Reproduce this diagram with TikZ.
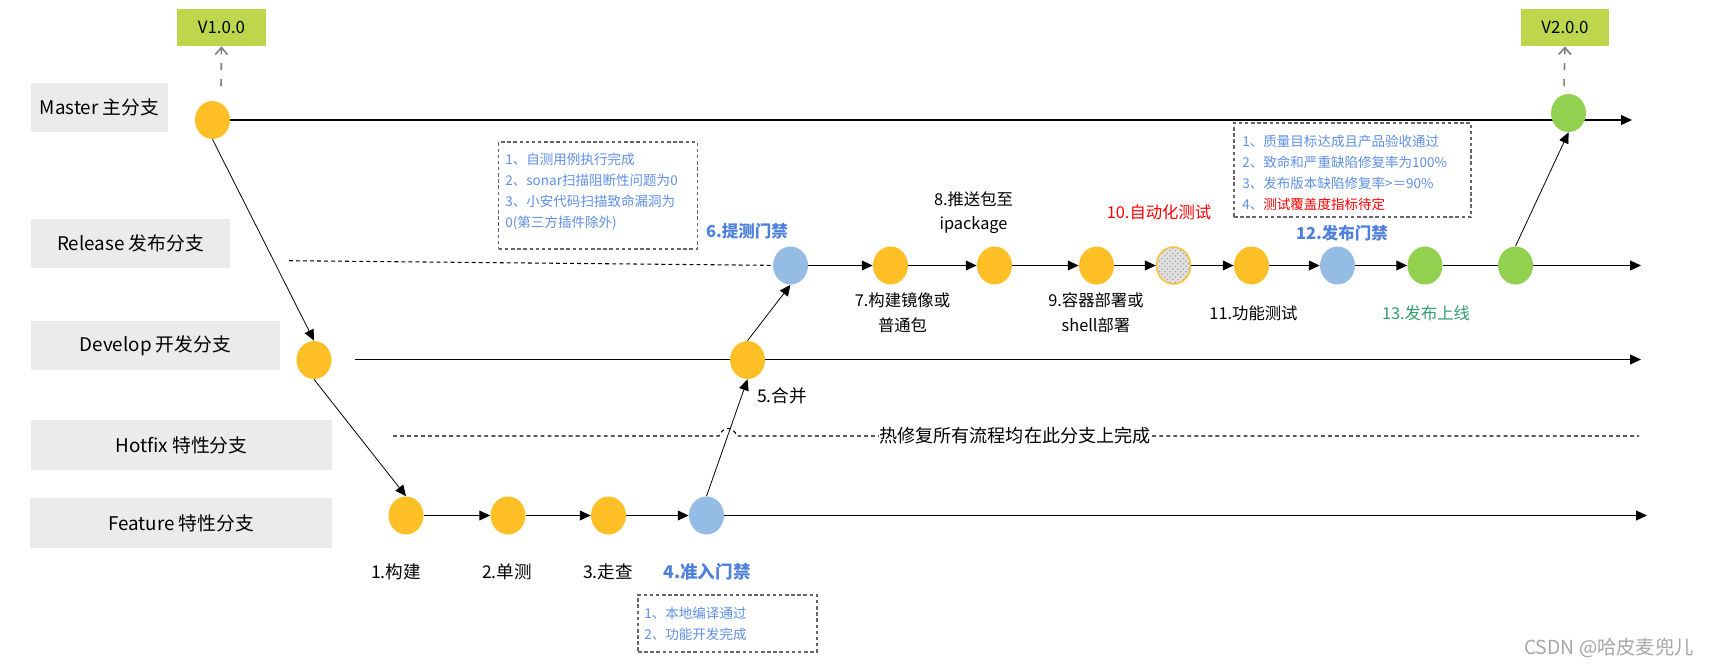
\documentclass[tikz,border=0pt]{standalone}
\usepackage{fontspec}
\setmainfont{Noto Sans CJK SC}
\usepackage{tikz}
\usetikzlibrary{arrows.meta,shapes.geometric,patterns}

\definecolor{nodeorange}{HTML}{FFBF27}
\definecolor{nodeblue}{HTML}{95BCE4}
\definecolor{nodegreen}{HTML}{92D050}
\definecolor{taglime}{HTML}{BDD64B}
\definecolor{branchgray}{HTML}{EBEBEB}
\definecolor{gateblue}{HTML}{4F81DC}
\definecolor{ruleblue}{HTML}{5E8FE6}
\definecolor{onlinegreen}{HTML}{2E9E6B}
\definecolor{markgray}{HTML}{A6A6A6}

\tikzset{
  commit/.style={ellipse,minimum width=.7cm,minimum height=.76cm,inner sep=0pt},
  orangecommit/.style={commit,fill=nodeorange},
  bluecommit/.style={commit,fill=nodeblue},
  greencommit/.style={commit,fill=nodegreen},
  branchbox/.style={fill=branchgray},
  branchname/.style={font=\fontsize{10.7}{14}\selectfont,inner sep=0pt},
  versiontag/.style={fill=taglime,font=\fontsize{9.6}{12}\selectfont,minimum width=1.77cm,minimum height=.74cm,inner sep=0pt},
  flow/.style={line width=.7pt,-{Triangle[length=6.2pt,width=5.6pt]}},
  plainflow/.style={line width=.7pt},
  hop/.style={line width=.45pt,-{Triangle[length=6.2pt,width=5.6pt]}},
  tagline/.style={color=gray,line width=.9pt,dash pattern=on 4pt off 5pt,-{Straight Barb[length=4pt,width=7pt]}},
  gatebox/.style={draw=black!60,line width=.7pt,dash pattern=on 2pt off 1.5pt},
  caption/.style={font=\fontsize{10}{14}\selectfont,align=center,inner sep=0pt},
  smallcaption/.style={caption,font=\fontsize{9.3}{14}\selectfont},
  gatetitle/.style={caption,font=\fontsize{10}{14}\selectfont\bfseries,color=gateblue},
  smallgatetitle/.style={gatetitle,font=\fontsize{9.4}{14}\selectfont\bfseries},
  rules/.style={font=\fontsize{7.7}{11.9}\selectfont,align=left,anchor=west,inner sep=0pt,color=ruleblue},
}

\begin{document}
\begin{tikzpicture}[x=.02cm,y=-.02cm]
  \useasboundingbox (0,0) rectangle (1710,667);

  % branch names
  \node[branchbox,minimum width=2.74cm,minimum height=.98cm] (masterbox) at (99.5,107.5) {};
  \node[branchname] (mastername) at (masterbox) {Master 主分支};
  \node[branchbox,minimum width=3.98cm,minimum height=.98cm] (releasebox) at (130.5,243.5) {};
  \node[branchname] (releasename) at (releasebox) {Release 发布分支};
  \node[branchbox,minimum width=4.98cm,minimum height=.98cm] (developbox) at (155.5,345.5) {};
  \node[branchname] (developname) at (developbox) {Develop 开发分支};
  \node[branchbox,minimum width=6.02cm,minimum height=1cm] (hotfixbox) at (181.5,445) {};
  \node[branchname] (hotfixname) at (hotfixbox) {Hotfix 特性分支};
  \node[branchbox,minimum width=6.04cm,minimum height=1cm] (featurebox) at (181,523) {};
  \node[branchname] (featurename) at (featurebox) {Feature 特性分支};

  % master
  \node[orangecommit] (masterstart) at (212.5,120) {};
  \coordinate (masterend) at (1632,120);
  \draw[flow] (masterstart) -- (masterend);
  \node[greencommit] (masterlast) at (1568.5,113) {};
  \node[versiontag] (vone) at (221.5,27.5) {V1.0.0};
  \node[versiontag,minimum width=1.76cm] (vtwo) at (1565,27.5) {V2.0.0};
  \coordinate (vonefoot) at (221,86);
  \coordinate (vtwofoot) at (1564,86);
  \draw[tagline] (vonefoot) -- (vone.south);
  \draw[tagline] (vtwofoot) -- (vtwo.south);

  % develop
  \node[orangecommit] (developstart) at (314,360) {};
  \coordinate (developleft) at (354.5,359.5);
  \coordinate (developend) at (1641,359.5);
  \draw[flow] (developleft) -- (developend);
  \node[orangecommit] (merge) at (747.5,360) {};

  % feature
  \node[orangecommit] (build) at (406,515.5) {};
  \node[orangecommit] (unittest) at (508,515.5) {};
  \node[orangecommit] (review) at (608.5,515.5) {};
  \node[bluecommit] (entrygate) at (706.5,515.5) {};
  \coordinate (featureend) at (1647,515.5);
  \draw[flow] (build) -- (unittest);
  \draw[flow] (unittest) -- (review);
  \draw[flow] (review) -- (entrygate);
  \draw[flow] (entrygate) -- (featureend);

  % release
  \node[bluecommit] (testgate) at (790.5,265.5) {};
  \node[orangecommit] (image) at (890.5,265.5) {};
  \node[orangecommit] (push) at (994.5,265.5) {};
  \node[orangecommit] (deploy) at (1096.5,265.5) {};
  \node[commit,draw=nodeorange,line width=.8pt,minimum width=.68cm,minimum height=.74cm,
    preaction={fill=black!12},pattern=crosshatch dots,pattern color=black!35] (autotest) at (1173.5,265.5) {};
  \node[orangecommit] (functest) at (1251.5,265.5) {};
  \node[bluecommit] (releasegate) at (1337.5,265.5) {};
  \node[greencommit] (online) at (1425,265.5) {};
  \node[greencommit] (releaselast) at (1515.5,265.5) {};
  \coordinate (releaseend) at (1641,265.5);
  \coordinate (releaseleft) at (289,260.7);
  \draw[line width=.6pt,dash pattern=on 2.2pt off 1.8pt] (releaseleft) -- (testgate);
  \draw[flow] (testgate) -- (image);
  \draw[flow] (image) -- (push);
  \draw[flow] (push) -- (deploy);
  \draw[flow] (deploy) -- (autotest);
  \draw[flow] (autotest) -- (functest);
  \draw[flow] (functest) -- (releasegate);
  \draw[flow] (releasegate) -- (online);
  \draw[plainflow] (online) -- (releaselast);
  \draw[flow] (releaselast) -- (releaseend);

  % hotfix
  \coordinate (hotfixleft) at (393,436);
  \coordinate (hotfixend) at (1639,436);
  \coordinate (hopleft) at (719,436);
  \coordinate (hopright) at (737,436);
  \draw[line width=.6pt,dash pattern=on 2.2pt off 1.8pt] (hotfixleft) -- (hopleft)
    .. controls (723,426) and (733,426) .. (hopright) -- (hotfixend);
  \node[caption,fill=white,font=\fontsize{10.3}{14}\selectfont] (hotfixnote) at (1015,436) {热修复所有流程均在此分支上完成};

  % between branches
  \draw[hop] (masterstart.south) -- (developstart.north);
  \draw[hop] (developstart.south) -- (build.north);
  \draw[hop] (entrygate.north) -- (merge.south);
  \draw[hop] (merge.north) -- (testgate.south);
  \draw[hop] (releaselast.north) -- (masterlast.south);

  % step names
  \node[caption] (buildname) at (396,572) {1.构建};
  \node[caption] (unittestname) at (507,572) {2.单测};
  \node[caption] (reviewname) at (608,572) {3.走查};
  \node[gatetitle] (entryname) at (707,572) {4.准入门禁};
  \node[caption] (mergename) at (782,396) {5.合并};
  \node[smallgatetitle] (testgatename) at (747,231) {6.提测门禁};
  \node[smallcaption] (imagename) at (902.5,313) {7.构建镜像或\\普通包};
  \node[smallcaption] (pushname) at (973.5,212.5) {8.推送包至\\ipackage};
  \node[smallcaption] (deployname) at (1096,313) {9.容器部署或\\shell部署};
  \node[smallcaption,color=red] (autotestname) at (1159,212) {10.自动化测试};
  \node[smallcaption] (functestname) at (1253.5,313) {11.功能测试};
  \node[smallgatetitle] (releasegatename) at (1342,233) {12.发布门禁};
  \node[smallcaption,color=onlinegreen] (onlinename) at (1426,313) {13.发布上线};

  % gate rules
  \node[gatebox,minimum width=3.58cm,minimum height=1.14cm] (entrybox) at (727.5,623.5) {};
  \node[rules] (entryrules) at (644,623.5) {1、本地编译通过\\2、功能开发完成};
  \node[gatebox,minimum width=3.97cm,minimum height=2.14cm] (testbox) at (598,195.5) {};
  \node[rules] (testrules) at (505,191.5) {1、自测用例执行完成\\2、sonar扫描阻断性问题为0\\3、小安代码扫描致命漏洞为\\0(第三方插件除外)};
  \node[gatebox,minimum width=4.74cm,minimum height=1.88cm] (releasebox2) at (1352.5,170) {};
  \node[rules] (releaserules) at (1242,172.5) {1、质量目标达成且产品验收通过\\2、致命和严重缺陷修复率为100\%\\3、发布版本缺陷修复率>＝90\%\\4、\textcolor{red}{测试覆盖度指标待定}};

  \node[font=\fontsize{11}{13}\selectfont,color=markgray,inner sep=0pt] (watermark) at (1609,648) {CSDN @哈皮麦兜儿};
\end{tikzpicture}
\end{document}
